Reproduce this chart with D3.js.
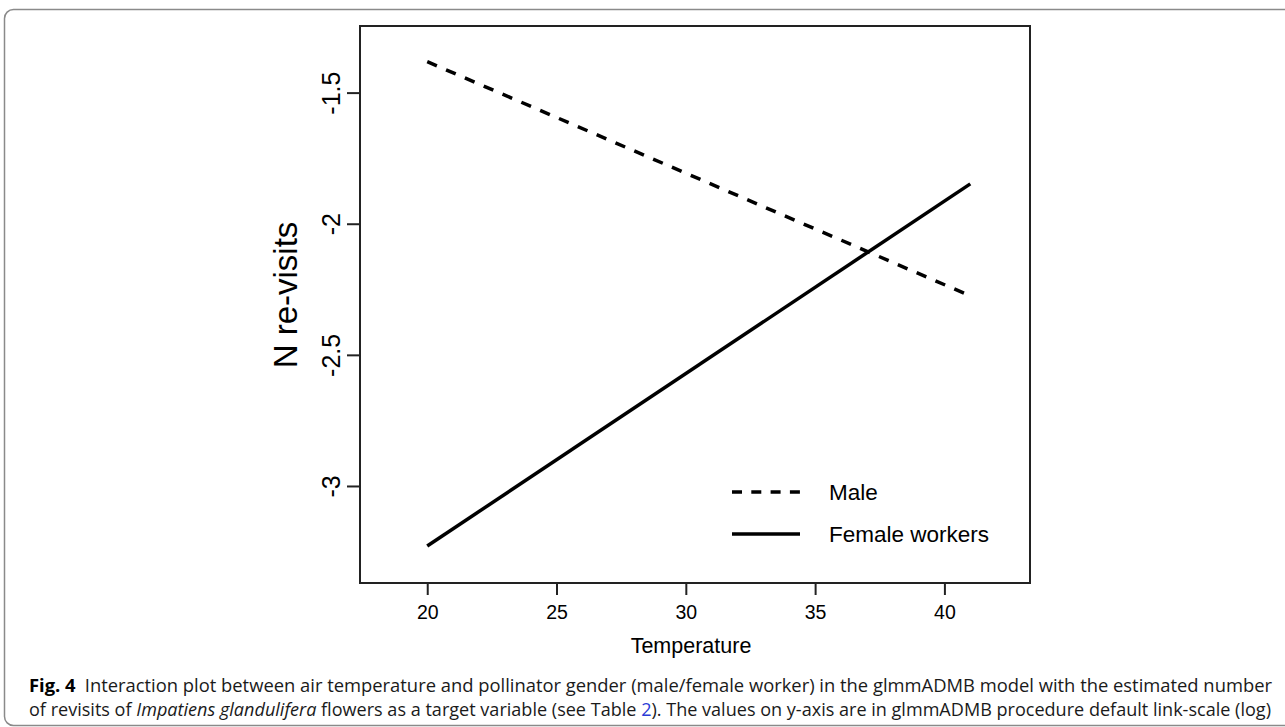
<!DOCTYPE html>
<html>
<head>
<meta charset="utf-8">
<script src="https://cdn.jsdelivr.net/npm/d3@7"></script>
<style>
  body { margin: 0; background: #fff; }
  svg { display: block; }
  .tick text { fill: #000; }
</style>
</head>
<body>
<script>

// data
const temps = [20, 41];
const maleValues = [-1.382, -2.275];
const femaleValues = [-3.229, -1.848];
const xTicks = [20, 25, 30, 35, 40];
const yTicks = [-3, -2.5, -2, -1.5];
const yTickLabels = ["-3", "-2.5", "-2", "-1.5"];
const seriesNames = ["Male", "Female workers"];

let width = 1285, height = 727;
let plot = {left: 360, right: 1030, top: 26, bottom: 583};

var svg = d3.select("body").append("svg")
  .attr("width", width)
  .attr("height", height);

// outer frame of the figure
svg.append("rect")
  .attr("x", 4.5).attr("y", 9.5)
  .attr("width", 1300).attr("height", 716)
  .attr("rx", 9)
  .attr("fill", "none")
  .attr("stroke", "#8a8a8a")
  .attr("stroke-width", 1.5);

var x = d3.scaleLinear().domain([17.4, 43.31]).range([plot.left, plot.right]);
var y = d3.scaleLinear().domain([-3.37, -1.246]).range([plot.bottom, plot.top]);

// axes
var xAxis = d3.axisBottom(x).tickValues(xTicks).tickSize(12).tickPadding(10);
var yAxis = d3.axisLeft(y).tickValues(yTicks).tickSize(13)
  .tickFormat(function (d, i) { return yTickLabels[i]; });

var gx = svg.append("g")
  .attr("transform", "translate(0," + plot.bottom + ")")
  .call(xAxis);
gx.select(".domain").remove();
gx.selectAll("line").attr("stroke", "#222").attr("stroke-width", 2);
gx.selectAll("text")
  .attr("font-family", "Liberation Sans, Arial, sans-serif")
  .attr("font-size", 19.5)
  .attr("dy", null)
  .attr("y", 36);

var gy = svg.append("g")
  .attr("transform", "translate(" + plot.left + ",0)")
  .call(yAxis);
gy.select(".domain").remove();
gy.selectAll("line").attr("stroke", "#222").attr("stroke-width", 2);
gy.selectAll("text")
  .attr("font-family", "Liberation Sans, Arial, sans-serif")
  .attr("font-size", 25)
  .attr("x", null).attr("dy", null)
  .attr("text-anchor", "middle")
  .attr("transform", "translate(-20,0) rotate(-90)");

// plot box
svg.append("rect")
  .attr("x", plot.left).attr("y", plot.top)
  .attr("width", plot.right - plot.left)
  .attr("height", plot.bottom - plot.top)
  .attr("fill", "none")
  .attr("stroke", "#222")
  .attr("stroke-width", 2);

// lines
var line = d3.line()
  .x(function (d) { return x(d[0]); })
  .y(function (d) { return y(d[1]); });

svg.append("path")
  .datum(d3.zip(temps, maleValues))
  .attr("d", line)
  .attr("fill", "none")
  .attr("stroke", "#000")
  .attr("stroke-width", 3.5)
  .attr("stroke-dasharray", "10.5,10");

svg.append("path")
  .datum(d3.zip(temps, femaleValues))
  .attr("d", line)
  .attr("fill", "none")
  .attr("stroke", "#000")
  .attr("stroke-width", 3.5);

// legend
var legend = svg.append("g").attr("transform", "translate(732,492)");
seriesNames.forEach(function (name, i) {
  legend.append("line")
    .attr("x1", 0).attr("x2", 68)
    .attr("y1", i * 42).attr("y2", i * 42)
    .attr("stroke", "#000")
    .attr("stroke-width", 3.5)
    .attr("stroke-dasharray", i === 0 ? "10,9.3" : null);
  legend.append("text")
    .attr("x", 97).attr("y", i * 42 + 8)
    .attr("font-family", "Liberation Sans, Arial, sans-serif")
    .attr("font-size", 22.5)
    .text(name);
});

// axis titles
svg.append("text")
  .attr("x", 691).attr("y", 653)
  .attr("text-anchor", "middle")
  .attr("font-family", "Liberation Sans, Arial, sans-serif")
  .attr("font-size", 21.5)
  .text("Temperature");

svg.append("text")
  .attr("transform", "translate(297,295) rotate(-90)")
  .attr("text-anchor", "middle")
  .attr("font-family", "Liberation Sans, Arial, sans-serif")
  .attr("font-size", 33)
  .text("N re-visits");

// caption
var cap1 = svg.append("text")
  .attr("x", 29).attr("y", 692)
  .attr("font-family", "Open Sans, sans-serif")
  .attr("font-size", 18)
  .attr("fill", "#1a1a1a")
  .attr("textLength", 1243)
  .attr("lengthAdjust", "spacingAndGlyphs");
cap1.append("tspan").attr("font-weight", "bold").attr("fill", "#000").text("Fig. 4");
cap1.append("tspan").text("\u2002Interaction plot between air temperature and pollinator gender (male/female worker) in the glmmADMB model with the estimated number");

var cap2 = svg.append("text")
  .attr("x", 29).attr("y", 716)
  .attr("font-family", "Open Sans, sans-serif")
  .attr("font-size", 18)
  .attr("fill", "#1a1a1a")
  .attr("textLength", 1242)
  .attr("lengthAdjust", "spacingAndGlyphs");
cap2.append("tspan").text("of revisits of ");
cap2.append("tspan").attr("font-style", "italic").text("Impatiens glandulifera");
cap2.append("tspan").text(" flowers as a target variable (see Table ");
cap2.append("tspan").attr("fill", "#2a3bd6").text("2");
cap2.append("tspan").text("). The values on y-axis are in glmmADMB procedure default link-scale (log)");

</script>
</body>
</html>
